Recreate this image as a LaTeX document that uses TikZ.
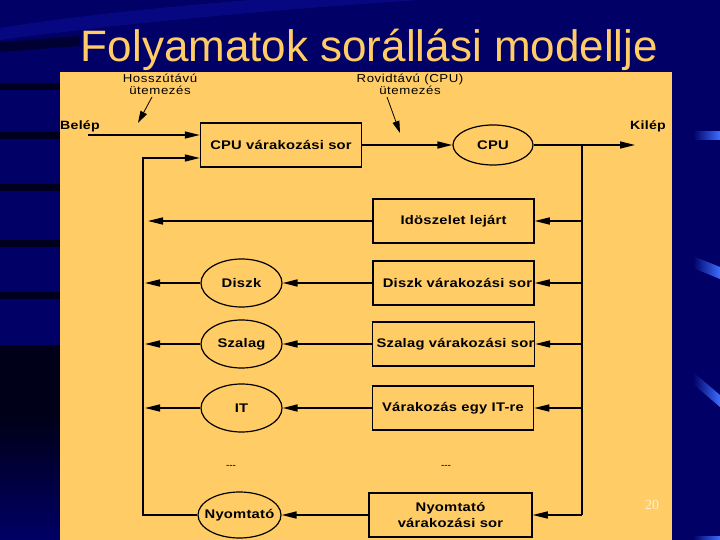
\documentclass[tikz,border=0pt]{standalone}
\usepackage{fontspec}
\setmainfont{Liberation Sans}
\newfontfamily\dfont[FakeStretch=1.18,LetterSpace=2]{Liberation Sans}
\newfontfamily\lfont[FakeStretch=1.15,LetterSpace=5]{Liberation Sans}
\newfontfamily\nfont{Liberation Serif}
\usetikzlibrary{arrows.meta,shapes.geometric,calc}
\definecolor{navy}{RGB}{0,0,102}
\definecolor{panel}{RGB}{255,204,102}
\definecolor{titlec}{RGB}{255,204,102}
\definecolor{streak}{RGB}{60,110,255}
\definecolor{pagenum}{RGB}{255,240,205}
\begin{document}
\begin{tikzpicture}[x=1pt,y=-1pt,
  arr/.style={line width=1.5pt,-{Triangle[length=15pt,width=7pt]}},
  sarr/.style={line width=0.8pt,-{Triangle[length=12pt,width=7pt]}},
  ln/.style={line width=1.5pt},
  qbox/.style={draw,line width=1.5pt,minimum width=161pt,minimum height=44pt,
    inner sep=0pt,align=center,font=\dfont\bfseries\fontsize{12.5}{15.5}\selectfont},
  serv/.style={ellipse,draw,line width=1.2pt,minimum width=81pt,minimum height=48pt,
    inner xsep=-8pt,inner ysep=0pt,font=\dfont\bfseries\fontsize{12.5}{14}\selectfont},
  lbl/.style={align=center,inner sep=0pt,font=\lfont\fontsize{11.5}{11.5}\selectfont},
  blbl/.style={anchor=west,inner sep=0pt,font=\dfont\bfseries\fontsize{12}{14}\selectfont},
  dots/.style={inner sep=0pt,font=\fontsize{10}{10}\selectfont}]
% background
\fill[navy] (0,0) rectangle (720,540);
\useasboundingbox (0,0) rectangle (720,540);
\fill[navy!25!black] (0,345) rectangle (60,420);
\shade[top color=navy!25!black,bottom color=navy] (0,420) rectangle (60,540);
\foreach \yy in {87,136,188,243,295}
  \fill[black,opacity=0.7] (0,\yy-3.5) rectangle (60,\yy+3.5);
\fill[navy!70!white!40!blue,opacity=0.25] (0,40) .. controls (150,20) and (300,8) .. (420,0) -- (250,0) .. controls (150,8) and (60,18) .. (0,28) -- cycle;
\fill[black,opacity=0.5] (0,42) .. controls (30,40) and (50,38) .. (80,36) -- (80,46) .. controls (50,48) and (30,50) .. (0,52) -- cycle;
% right streaks
\shade[left color=navy,right color=streak] (693,132) rectangle (720,140);
\shade[left color=navy,right color=streak] (693,256) -- (720,267) -- (720,279) -- (693,268) -- cycle;
\shade[left color=navy,right color=streak] (693,372) -- (720,395) -- (720,407) -- (693,384) -- cycle;
\shade[left color=navy,right color=streak] (693,536) rectangle (720,540);
% panel
\fill[panel] (60,72) rectangle (672,540);
% title
\node[anchor=base,inner sep=0pt,text=titlec,font=\fontsize{44}{50}\selectfont] (title) at (369.5,62) {Folyamatok sorállási modellje};
% nodes
\node[qbox] (cpuq) at (281,145) {CPU várakozási sor};
\node[serv,minimum width=80pt,minimum height=40pt] (cpu) at (493,145) {CPU};
\node[qbox] (ido) at (453.5,221) {Idöszelet lejárt};
\node[qbox] (diszkq) at (453.5,283) {\hspace*{8pt}Diszk várakozási sor};
\node[qbox] (szalagq) at (453.5,344) {\hspace*{4pt}Szalag várakozási sor};
\node[qbox] (itq) at (453,408) {Várakozás egy IT-re};
\node[qbox,minimum width=163pt] (nyomq) at (450.5,515) {Nyomtató\\várakozási sor};
\node[serv] (diszk) at (241.5,283) {Diszk};
\node[serv] (szalag) at (241.5,344) {Szalag};
\node[serv] (it) at (241.5,408) {IT};
\node[serv,minimum width=83pt,minimum height=46pt] (nyom) at (239.5,515) {Nyomtató};
% labels
\node[lbl] (hl) at (160,84.5) {Hosszútávú\\ütemezés};
\node[lbl] (rl) at (410,84.5) {Rovidtávú (CPU)\\ütemezés};
\node[blbl] (belep) at (60,126) {Belép};
\node[blbl] (kilep) at (630,126) {Kilép};
\node[dots] (d1) at (231,467) {-{}-{}-};
\node[dots] (d2) at (446,467) {-{}-{}-};
\node[inner sep=0pt,text=pagenum,font=\nfont\fontsize{14}{16}\selectfont] (pg) at (652,505) {20};
% coordinates
\coordinate (bs) at (88,135);
\coordinate (h1) at (152,97);
\coordinate (h2) at (138,123);
\coordinate (r1) at (387,97);
\coordinate (r2) at (400,133);
\coordinate (kx) at (635,145);
\coordinate (rj) at (582,145);
\coordinate (rb) at (582,515);
\coordinate (lv) at (143,158);
\coordinate (lb) at (143,515);
% connectors
\draw[sarr] (h1) -- (h2);
\draw[sarr] (r1) -- (r2);
\draw[arr] (bs) -- (bs -| cpuq.west);
\draw[arr] (cpuq.east) -- (cpu.west);
\draw[arr] (cpu.east) -- (kx);
\draw[ln] (rj) -- (rb);
\draw[arr] (rb) -- (nyomq.east);
\foreach \b in {ido,diszkq,szalagq,itq}
  \draw[arr] (\b.east -| rj) -- (\b.east);
\draw[arr] (nyom.west) -- (lb) -- (lv) -- (lv -| cpuq.west);
\draw[arr,shorten >=5pt] (ido.west) -- (ido.west -| lv);
\foreach \q/\s in {diszkq/diszk,szalagq/szalag,itq/it}{
  \draw[arr] (\q.west) -- (\s.east);
  \draw[arr,shorten >=2pt] (\s.west) -- (\s.west -| lv);
}
\draw[arr] (nyomq.west) -- (nyom.east);
\end{tikzpicture}
\end{document}
